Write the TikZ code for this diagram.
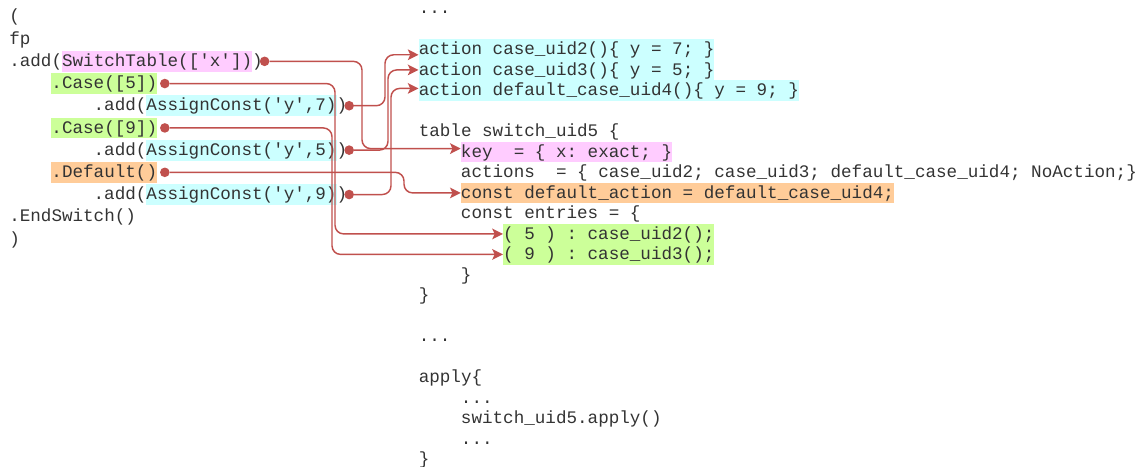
\documentclass[tikz,border=0pt]{standalone}
\usepackage{fontspec}
\usepackage{xcolor}
\usetikzlibrary{arrows.meta, positioning}
\newfontfamily\codefont{Liberation Mono}

\definecolor{hlpink}{HTML}{FFCCFF}
\definecolor{hlgreen}{HTML}{CCFF99}
\definecolor{hlcyan}{HTML}{CCFFFF}
\definecolor{hlorange}{HTML}{FFCC99}
\definecolor{linkred}{HTML}{C0504D}

% highlighted piece of code, one line high
\newcommand{\hlt}[2]{{\setlength{\fboxsep}{0pt}\colorbox{#1}{\rule[-4pt]{0pt}{15.6pt}#2}}}
\newcommand{\sq}{\textquotesingle}

\begin{document}
\begin{tikzpicture}[x=0.75pt, y=-0.75pt,
	code/.style={inner sep=0pt, anchor=base west, text=black!80,
		font=\codefont\fontsize{13.2pt}{15pt}\selectfont\frenchspacing},
	dot/.style={circle, fill=linkred, inner sep=0pt, minimum size=7.2pt},
	link/.style={draw=linkred, line width=1.1pt, rounded corners=6.5pt,
		-{Stealth[length=8pt, width=8pt, inset=1.8pt]}}]
		\useasboundingbox (0,0) rectangle (1139,467);

		% python side
		\draw (9,22) node[code] (open) {(}
		(9,44.2) node[code] (fp) {fp}
		(9,66.4) node[code] (swline) {.add(\hlt{hlpink}{SwitchTable([\sq x\sq])})}
		(51.2,88.6) node[code] (case5) {\hlt{hlgreen}{.Case([5])}}
		(93.4,110.8) node[code] (set7) {.add(\hlt{hlcyan}{AssignConst(\sq y\sq,7)})}
		(51.2,133) node[code] (case9) {\hlt{hlgreen}{.Case([9])}}
		(93.4,155.2) node[code] (set5) {.add(\hlt{hlcyan}{AssignConst(\sq y\sq,5)})}
		(51.2,177.4) node[code] (dflt) {\hlt{hlorange}{.Default()}}
		(93.4,199.6) node[code] (set9) {.add(\hlt{hlcyan}{AssignConst(\sq y\sq,9)})}
		(9,221.8) node[code] (endsw) {.EndSwitch()}
		(9,244) node[code] (close) {)};

		% p4 side
		\draw (418.5,13.5) node[code] (dots1) {...}
		(418.5,54.5) node[code] (act1) {\hlt{hlcyan}{action case\_uid2()\{ y = 7; \}}}
		(418.5,75) node[code] (act2) {\hlt{hlcyan}{action case\_uid3()\{ y = 5; \}}}
		(418.5,95.5) node[code] (act3) {\hlt{hlcyan}{action default\_case\_uid4()\{ y = 9; \}}}
		(418.5,136.5) node[code] (table) {table switch\_uid5 \{}
		(460.7,157) node[code] (key) {\hlt{hlpink}{key~~= \{ x: exact; \}}}
		(460.7,177.5) node[code] (acts) {actions~~= \{ case\_uid2; case\_uid3; default\_case\_uid4; NoAction;\}}
		(460.7,198) node[code] (dfact) {\hlt{hlorange}{const default\_action = default\_case\_uid4;}}
		(460.7,218.5) node[code] (entries) {const entries = \{}
		(502.9,239) node[code] (e5) {\hlt{hlgreen}{( 5 ) : case\_uid2();}}
		(502.9,259.5) node[code] (e9) {\hlt{hlgreen}{( 9 ) : case\_uid3();}}
		(460.7,280) node[code] (entend) {\}}
		(418.5,300.5) node[code] (tabend) {\}}
		(418.5,341.5) node[code] (dots2) {...}
		(418.5,382.5) node[code] (apply) {apply\{}
		(460.7,403) node[code] (dots3) {...}
		(460.7,423.5) node[code] (call) {switch\_uid5.apply()}
		(460.7,444) node[code] (dots4) {...}
		(418.5,464.5) node[code] (applyend) {\}};

		\node[dot, right=-2.6pt of swline] (swdot) {};
		\node[dot, right=1.8pt of case5] (c5dot) {};
		\node[dot, right=-2.5pt of set7] (s7dot) {};
		\node[dot, right=1.8pt of case9] (c9dot) {};
		\node[dot, right=-2.5pt of set5] (s5dot) {};
		\node[dot, right=1.8pt of dflt] (dfdot) {};
		\node[dot, right=-2.5pt of set9] (s9dot) {};

		% where the lines turn
		\coordinate (bsw) at (362,0);
		\coordinate (bc5) at (335,0);
		\coordinate (bc9) at (332,0);
		\coordinate (bs7) at (385,0);
		\coordinate (bs5) at (388,0);
		\coordinate (bs9) at (391,0);
		\coordinate (bdf) at (404,0);
		\coordinate (act1in) at ([yshift=-4pt]act1.west);
		\coordinate (act3in) at ([yshift=1.5pt]act3.west);
		\coordinate (keyin) at ([yshift=2.5pt]key.west);

		\draw[link] (swdot) -| (bsw |- keyin) -- (keyin);
		\draw[link] (c5dot) -| (bc5 |- e5.west) -- (e5.west);
		\draw[link] (c9dot) -| (bc9 |- e9.west) -- (e9.west);
		\draw[link] (s7dot) -| (bs7 |- act1in) -- (act1in);
		\draw[link] (s5dot) -| (bs5 |- act2.west) -- (act2.west);
		\draw[link] (s9dot) -| (bs9 |- act3in) -- (act3in);
		\draw[link] (dfdot) -| (bdf |- dfact.west) -- (dfact.west);
	\end{tikzpicture}
\end{document}
